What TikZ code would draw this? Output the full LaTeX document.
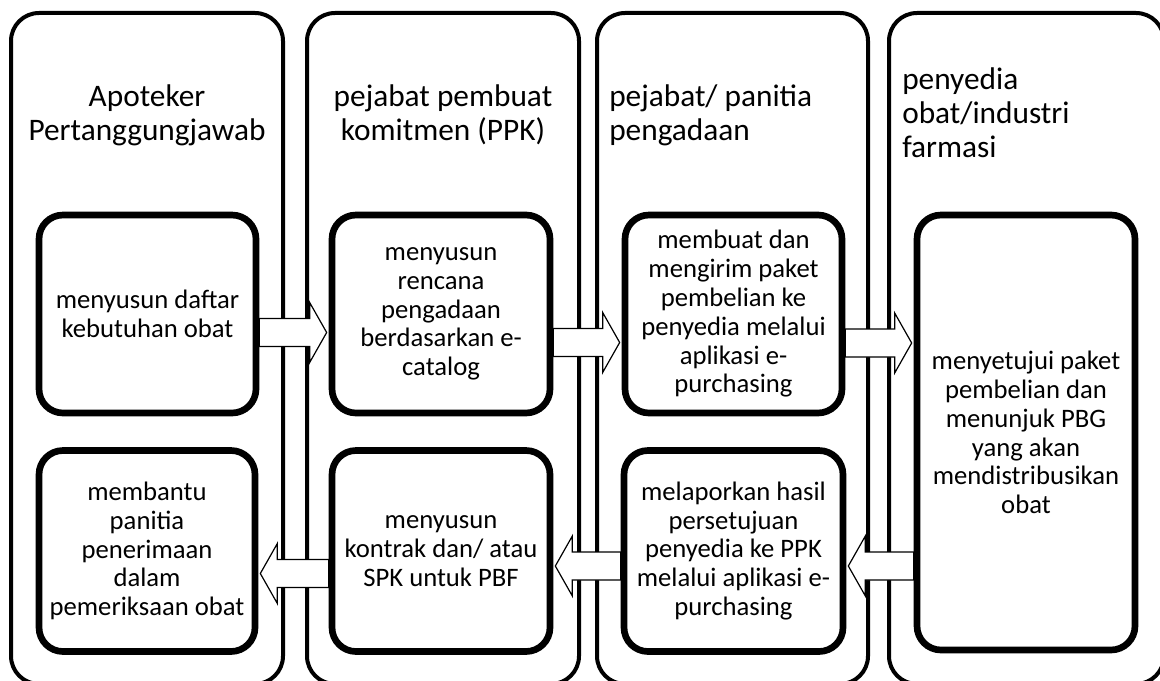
\documentclass[tikz,border=0pt]{standalone}
\usepackage{fontspec}
\setmainfont{Carlito}
\usetikzlibrary{calc,shadows}
\pgfdeclarelayer{back}
\pgfdeclarelayer{mid}
\pgfsetlayers{back,mid,main}
\newcommand\rblock[3]{%
  \coordinate (t) at (0,#3);
  \draw[blockarr] let \p1=(#1.east), \p2=(#2.west), \p3=(t) in
    (\x1,\y3+10.5pt) -- (\x2-14.25pt,\y3+10.5pt) -- (\x2-14.25pt,\y3+22.5pt) --
    (\x2-1.5pt,\y3) -- (\x2-14.25pt,\y3-22.5pt) -- (\x2-14.25pt,\y3-10.5pt) --
    (\x1,\y3-10.5pt) -- cycle;}
\newcommand\lblock[3]{%
  \coordinate (t) at (0,#3);
  \draw[blockarr] let \p1=(#1.west), \p2=(#2.east), \p3=(t) in
    (\x1,\y3+10.5pt) -- (\x2+14.25pt,\y3+10.5pt) -- (\x2+14.25pt,\y3+22.5pt) --
    (\x2+1.5pt,\y3) -- (\x2+14.25pt,\y3-22.5pt) -- (\x2+14.25pt,\y3-10.5pt) --
    (\x1,\y3-10.5pt) -- cycle;}
\begin{document}
\begin{tikzpicture}[x=0.75pt,y=-0.75pt,
  column/.style={draw=black, line width=3pt, fill=white, rounded corners=21pt},
  stepbox/.style={draw=black, line width=5pt, fill=white, rounded corners=18pt,
    align=center, inner sep=0pt, font=\fontsize{20}{21.6}\selectfont,
    drop shadow={shadow xshift=1.2pt, shadow yshift=-1.8pt, opacity=0.25}},
  header/.style={inner sep=0pt, font=\fontsize{23.5}{25.5}\selectfont},
  blockarr/.style={draw=black, line width=0.9pt, fill=white, line join=miter}]
\useasboundingbox (0,0) rectangle (1160,681);
\begin{pgfonlayer}{back}
  \fill[white] (0,0) rectangle (1160,681);
  \begin{scope}
    \clip (0,0) rectangle (1160,681);
    \draw[column] (11,13) rectangle (283,684);
    \draw[column] (307,13) rectangle (579,684);
    \draw[column] (597,13) rectangle (868,684);
    \draw[column] (889,13) rectangle (1164,684);
  \end{scope}
\end{pgfonlayer}
% headers
\node[header, align=center] (h1) at (147,115) {Apoteker\\Pertanggungjawab};
\node[header, align=center] (h2) at (443,115) {pejabat pembuat\\komitmen (PPK)};
\node[header, align=left, anchor=west] (h3) at (609,115) {pejabat/ panitia\\pengadaan};
\node[header, align=left, anchor=west] (h4) at (902,113) {penyedia\\obat/industri\\farmasi};
% boxes
\node[stepbox, minimum width=217*0.75pt, minimum height=198*0.75pt] (b1) at (147.5,314) {menyusun daftar\\kebutuhan obat};
\node[stepbox, minimum width=218*0.75pt, minimum height=198*0.75pt] (b2) at (441,314) {menyusun\\rencana\\pengadaan\\berdasarkan e-\\catalog};
\node[stepbox, minimum width=217*0.75pt, minimum height=198*0.75pt] (b3) at (733.5,314) {membuat dan\\mengirim paket\\pembelian ke\\penyedia melalui\\aplikasi e-\\purchasing};
\node[stepbox, minimum width=218*0.75pt, minimum height=435*0.75pt] (b4) at (1026,432.5) {menyetujui paket\\pembelian dan\\menunjuk PBG\\yang akan\\mendistribusikan\\obat};
\node[stepbox, minimum width=219*0.75pt, minimum height=201*0.75pt] (b5) at (733.5,551) {melaporkan hasil\\persetujuan\\penyedia ke PPK\\melalui aplikasi e-\\purchasing};
\node[stepbox, minimum width=218*0.75pt, minimum height=201*0.75pt] (b6) at (441,551) {menyusun\\kontrak dan/ atau\\SPK untuk PBF};
\node[stepbox, minimum width=216*0.75pt, minimum height=201*0.75pt] (b7) at (147,551) {membantu\\panitia\\penerimaan\\dalam\\pemeriksaan obat};
% arrows
\begin{pgfonlayer}{mid}
  \rblock{b1}{b2}{332.5}
  \rblock{b2}{b3}{342.5}
  \rblock{b3}{b4}{343}
  \lblock{b4}{b5}{566}
  \lblock{b5}{b6}{566}
  \lblock{b6}{b7}{573.5}
\end{pgfonlayer}
\end{tikzpicture}
\end{document}
